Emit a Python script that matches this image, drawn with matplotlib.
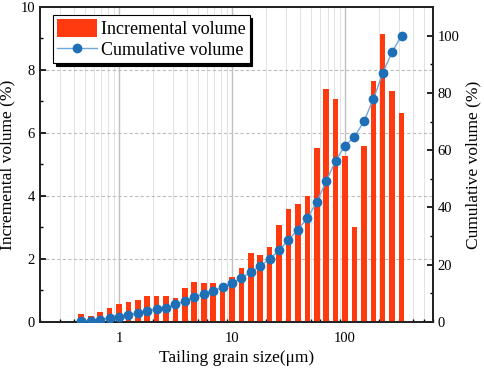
import numpy as np
import matplotlib
matplotlib.use("Agg")
import matplotlib.pyplot as plt
from matplotlib.ticker import FuncFormatter, NullFormatter

# grain size classes (um), 12 per decade
sizes = [0.464, 0.562, 0.681, 0.825, 1.0, 1.21, 1.47, 1.78, 2.15, 2.61,
         3.16, 3.83, 4.64, 5.62, 6.81, 8.25, 10.0, 12.1, 14.7, 17.8,
         21.5, 26.1, 31.6, 38.3, 46.4, 56.2, 68.1, 82.5, 100.0, 121.0,
         147.0, 178.0, 215.0, 261.0, 316.0]
incremental = [0.25, 0.19, 0.33, 0.44, 0.57, 0.63, 0.70, 0.82, 0.82, 0.82,
               0.75, 1.07, 1.26, 1.25, 1.25, 1.12, 1.44, 1.70, 2.18, 2.12,
               2.38, 3.07, 3.58, 3.76, 4.00, 5.52, 7.40, 7.08, 5.26, 3.02,
               5.59, 7.65, 9.14, 7.33, 6.63]
cumulative = [0.3, 0.5, 0.8, 1.3, 1.8, 2.5, 3.1, 3.8, 4.6, 4.8,
              6.2, 7.2, 8.6, 9.8, 10.9, 12.1, 13.6, 15.3, 17.4, 19.6,
              22.0, 25.0, 28.6, 32.3, 36.2, 41.9, 49.1, 56.3, 61.6, 64.6,
              70.1, 77.8, 86.8, 94.3, 100.0]

plt.rcParams['font.family'] = ['Liberation Serif', 'DejaVu Serif']

fig = plt.figure(figsize=(4.84, 3.68), dpi=100)
ax = fig.add_axes([0.0826, 0.125, 0.812, 0.856])
ax.set_xscale('log')

x = np.array(sizes)
w = 0.05  # bar width in decades
left = x * 10 ** (-w / 2)
width = x * (10 ** (w / 2) - 10 ** (-w / 2))
bars = ax.bar(left, incremental, width=width, align='edge', color='#FF3A0E',
              edgecolor='none', label='Incremental volume', zorder=3)

ax.set_xlim(0.2, 600)
ax.set_ylim(0, 10)
ax.set_yticks(np.arange(0, 11, 2))
ax.set_yticks(np.arange(1, 10, 2), minor=True)
ax.xaxis.set_major_formatter(FuncFormatter(lambda v, p: '%g' % v))
ax.xaxis.set_minor_formatter(NullFormatter())
ax.grid(True, which='minor', axis='x', color='#e2e2e2', lw=0.7, zorder=0)
ax.grid(True, which='major', axis='x', color='#c0c0c0', lw=1.0, zorder=0)
ax.grid(True, which='major', axis='y', color='#bdbdbd', lw=0.8, ls=(0, (3, 2)), zorder=0)
ax.tick_params(which='both', direction='in', labelsize=10.5)
ax.tick_params(which='major', length=4, width=1.2)
ax.tick_params(which='minor', length=2.5, width=1.0)
ax.tick_params(axis='x', pad=7)
ax.set_xlabel('Tailing grain size(μm)', fontsize=12.5, labelpad=4)
ax.set_ylabel('Incremental volume (%)', fontsize=12.5, labelpad=4)

ax2 = ax.twinx()
line, = ax2.plot(x, cumulative, '-o', color='#6fa8dc', lw=1.0,
                 markerfacecolor='#1f6fb6', markeredgecolor='#1f6fb6',
                 markersize=6, label='Cumulative volume', zorder=4)
ax2.set_ylim(0, 110)
ax2.set_yticks(np.arange(0, 101, 20))
ax2.set_yticks(np.arange(10, 101, 20), minor=True)
ax2.tick_params(which='both', direction='in', labelsize=10.5)
ax2.tick_params(which='major', length=4, width=1.2)
ax2.tick_params(which='minor', length=2.5, width=1.0)
ax2.set_ylabel('Cumulative volume (%)', fontsize=12.5, labelpad=4)

for a in (ax, ax2):
    for s in a.spines.values():
        s.set_linewidth(1.3)
        s.set_color('#222222')

leg = ax2.legend([bars, line], ['Incremental volume', 'Cumulative volume'],
                 loc='upper left', bbox_to_anchor=(0.025, 0.985), fontsize=13,
                 frameon=True, fancybox=False, shadow={'color': 'black', 'alpha': 1.0},
                 edgecolor='black', borderpad=0.2, handlelength=2.2,
                 handleheight=1.2, handletextpad=0.25, labelspacing=0.1,
                 borderaxespad=0.2, framealpha=1.0)
leg.get_frame().set_linewidth(0.8)

fig.savefig('out.png', dpi=100)
